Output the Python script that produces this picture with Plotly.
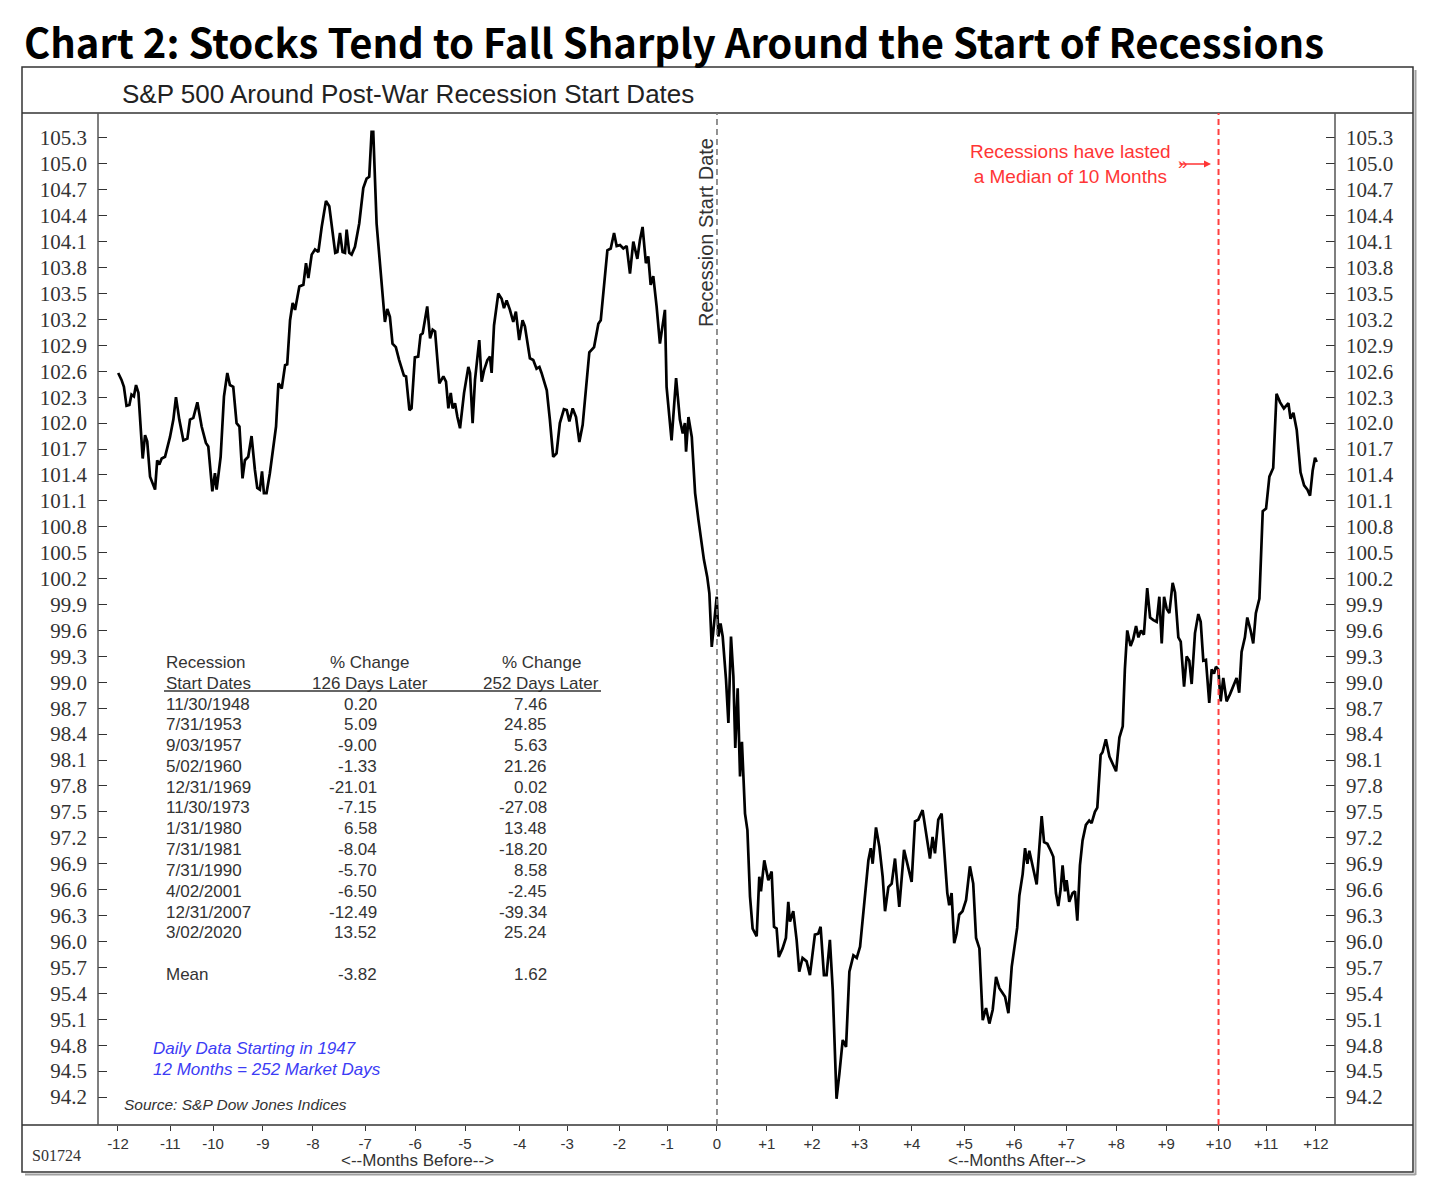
import plotly.graph_objects as go

# ---------------- data ----------------
days = [-251.9, -250.5, -249.5, -248.4, -247.2, -246.3, -245.3, -244.4, -243.4, -241.6, -240.6, -239.7, -238.5,
        -236.4, -235.5, -234.6, -233.6, -232.2, -230.1, -228.7, -227.6, -226.2, -224.5, -222.8, -221.7, -220.3,
        -218.6, -216.8, -215.0, -214.0, -212.3, -211.2, -210.5, -208.8, -207.4, -206.0, -204.9, -203.5, -202.1,
        -200.9, -199.6, -198.6, -197.2, -195.8, -194.4, -193.4, -192.3, -191.4, -190.6, -189.5, -188.1, -186.9,
        -185.5, -184.5, -183.1, -181.7, -180.8, -179.6, -178.5, -177.5, -175.7, -174.0, -172.9, -171.9, -170.5,
        -169.1, -167.7, -166.3, -164.5, -163.1, -161.7, -160.6, -159.7, -158.6, -157.5, -156.5, -155.8, -154.7,
        -153.7, -152.3, -150.5, -148.8, -147.4, -146.3, -145.3, -144.6, -143.2, -141.8, -139.7, -138.7, -137.6,
        -136.5, -135.1, -133.7, -131.7, -130.8, -129.4, -128.5, -127.1, -125.7,
        -124.7, -123.8, -122.8, -121.9, -120.7, -119.6, -118.6, -116.8, -115.1, -114.0, -113.0, -112.0, -111.2,
        -110.2, -109.2, -108.1, -106.4, -104.6, -103.9, -102.8, -101.8, -100.0, -99.0, -98.0, -96.6, -95.5,
        -94.8, -93.8, -92.0, -90.6, -89.6, -88.5, -87.1, -85.7, -84.6, -83.2, -81.8, -80.8, -78.7, -77.3, -75.9,
        -74.7, -73.8, -71.6, -70.3, -68.9, -67.5, -66.1, -64.4, -63.2, -62.1, -60.7, -59.3, -57.9, -56.5, -54.8,
        -53.7, -51.7, -49.9, -48.9, -47.1, -46.1, -44.7, -43.3, -42.2, -40.8, -39.4, -38.0, -36.6, -35.2, -33.5,
        -32.4, -31.3, -29.9, -28.9, -27.9, -26.8, -25.4, -24.0, -22.9, -21.9, -21.2, -19.1, -17.2, -15.6, -14.4,
        -13.5, -13.0, -12.0, -10.6, -9.2, -7.8, -6.4, -5.5, -4.1,
        -3.2, -2.2, -1.3, -0.1, 0.6, 1.5, 2.4, 3.8, 4.8, 5.9, 6.9, 7.7, 8.7, 9.7, 10.5, 11.8, 12.8, 13.9, 15.0,
        16.7, 17.8, 18.5, 19.9, 21.6, 23.0, 24.0, 25.1, 26.0, 27.6, 29.0, 30.0, 30.7, 32.1, 33.5, 34.6, 36.0,
        37.7, 39.1, 41.2, 42.6, 43.6, 45.0, 46.1, 47.5, 48.7, 50.3, 51.5, 52.9, 54.3, 55.7, 57.4, 58.8, 60.2,
        62.3, 63.7, 64.7, 65.5, 66.9, 68.3, 69.7, 70.7, 72.1, 73.5, 74.9, 76.7, 78.7, 80.5, 81.9, 83.3, 84.7,
        86.5, 88.2, 89.6, 90.7, 91.7, 93.1, 94.5, 96.9, 97.7, 98.7, 99.8, 100.8, 101.9, 103.3, 104.8, 106.4,
        107.8, 109.0, 110.4, 111.8, 113.2, 114.6, 116.0, 117.4, 118.8, 121.2, 122.6, 124.0,
        126.3, 127.2, 128.6, 129.6, 130.6, 131.4, 132.4, 133.4, 134.5, 135.6, 136.6, 137.6, 139.0, 140.4, 141.5,
        142.6, 143.6, 144.6, 145.4, 146.4, 147.1, 148.2, 149.6, 150.6, 151.6, 152.7, 153.8, 155.2, 156.6, 157.6,
        159.0, 160.0, 160.8, 161.4, 162.2, 163.6, 165.1, 166.7, 167.9, 169.3, 170.7, 171.6, 172.6, 174.0, 175.1,
        176.3, 177.3, 178.4, 179.6, 181.0, 182.2, 183.6, 185.0, 186.1, 187.1, 188.1, 189.2, 190.3, 191.7, 192.7,
        194.1, 195.1, 196.5, 197.6, 198.7, 199.7, 201.1, 202.5, 203.5, 204.6, 205.7, 207.1, 208.1, 209.1, 209.9,
        210.9, 211.9, 213.0, 214.4, 215.8, 217.5, 218.6, 219.7, 220.7, 222.1, 223.1, 224.5, 225.6, 226.7, 228.2,
        229.6, 231.0, 232.4, 234.0, 235.4, 236.9, 238.5, 240.4, 241.3, 242.5, 243.9, 245.5, 247.0, 248.4, 249.5,
        250.6, 251.6, 252.3]

sp500 = [102.58, 102.50, 102.42, 102.20, 102.21, 102.33, 102.31, 102.44, 102.35, 101.59, 101.86, 101.79, 101.38,
         101.23, 101.57, 101.52, 101.59, 101.61, 101.84, 102.04, 102.30, 102.04, 101.80, 101.82, 102.04, 102.06,
         102.24, 101.96, 101.77, 101.73, 101.21, 101.42, 101.23, 101.61, 102.31, 102.58, 102.44, 102.42, 102.00,
         101.96, 101.36, 101.57, 101.61, 101.85, 101.46, 101.25, 101.23, 101.44, 101.19, 101.19, 101.42, 101.67,
         101.96, 102.46, 102.40, 102.67, 102.68, 103.19, 103.39, 103.31, 103.58, 103.60, 103.85, 103.68, 103.95,
         104.01, 103.98, 104.27, 104.57, 104.51, 104.20, 103.97, 103.98, 104.20, 103.98, 103.97, 104.24, 103.97,
         103.95, 104.04, 104.31, 104.72, 104.83, 104.85, 105.37, 105.37, 104.31, 103.89, 103.17, 103.32, 103.23,
         102.92, 102.88, 102.73, 102.55, 102.54, 102.15, 102.17, 102.76, 102.77,
         103.02, 103.04, 103.23, 103.35, 102.98, 103.08, 103.06, 102.46, 102.54, 102.48, 102.17, 102.35, 102.17,
         102.23, 102.07, 101.94, 102.35, 102.65, 102.58, 102.00, 102.50, 102.96, 102.48, 102.61, 102.73, 102.77,
         102.58, 103.13, 103.50, 103.44, 103.33, 103.42, 103.31, 103.17, 103.29, 102.96, 103.19, 103.12, 102.75,
         102.73, 102.63, 102.65, 102.58, 102.38, 102.04, 101.61, 101.65, 102.00, 102.16, 102.15, 102.02, 102.17,
         102.07, 101.78, 101.98, 102.50, 102.82, 102.88, 103.15, 103.19, 103.73, 104.00, 104.02, 104.20, 104.05,
         104.06, 104.02, 104.05, 103.73, 104.10, 103.90, 104.12, 104.27, 103.85, 103.93, 103.60, 103.70, 103.35,
         102.92, 103.12, 103.31, 102.42, 101.80, 102.52, 102.04, 101.88, 102.00, 101.67, 102.07, 101.84, 101.19,
         100.88, 100.61, 100.42, 100.22,
         100.03, 99.41, 99.68, 99.99, 99.53, 99.68, 99.53, 99.03, 98.53, 99.53, 99.07, 98.24, 98.93, 97.91, 98.31,
         97.48, 97.29, 96.52, 96.15, 96.06, 96.75, 96.58, 96.94, 96.71, 96.81, 96.17, 96.15, 95.82, 95.92, 96.04,
         96.46, 96.23, 96.35, 96.02, 95.65, 95.81, 95.77, 95.61, 96.08, 96.09, 96.17, 95.61, 95.61, 96.02, 95.44,
         94.18, 94.47, 94.86, 94.78, 95.65, 95.84, 95.81, 95.94, 96.52, 96.94, 97.08, 96.90, 97.32, 97.10, 96.75,
         96.35, 96.63, 96.67, 96.96, 96.40, 97.06, 96.87, 96.69, 97.39, 97.41, 97.52, 97.21, 96.96, 97.21, 97.02,
         97.41, 97.48, 96.56, 96.42, 96.56, 95.98, 96.09, 96.31, 96.35, 96.48, 96.87, 96.67, 96.04, 95.92, 95.09,
         95.23, 95.05, 95.21, 95.59, 95.46, 95.36, 95.17, 95.71,
         96.16, 96.53, 96.78, 97.08, 96.90, 97.05, 96.93, 96.78, 96.66, 97.08, 97.45, 97.15, 97.13, 97.05, 96.98,
         96.56, 96.41, 96.61, 96.88, 96.58, 96.71, 96.46, 96.56, 96.58, 96.24, 96.88, 97.17, 97.35, 97.40, 97.37,
         97.50, 97.55, 97.84, 98.16, 98.19, 98.34, 98.14, 98.04, 97.97, 98.36, 98.49, 99.15, 99.60, 99.42, 99.50,
         99.65, 99.52, 99.60, 99.55, 100.09, 99.75, 99.72, 99.70, 99.99, 99.45, 99.99, 99.85, 99.80, 100.15, 100.04,
         99.52, 99.47, 98.95, 99.30, 99.25, 98.98, 99.57, 99.79, 99.70, 99.25, 99.26, 98.76, 99.15, 99.10, 99.18,
         99.15, 98.78, 99.05, 98.78, 98.86, 98.98, 99.05, 98.88, 99.35, 99.52, 99.75, 99.60, 99.45, 99.80, 99.97,
         100.98, 101.01, 101.38, 101.48, 102.34, 102.24, 102.17, 102.23, 102.05, 102.12, 101.92, 101.43, 101.28,
         101.23, 101.16, 101.45, 101.60, 101.55]

month_ticks = [-252, -230, -212, -191, -170, -148, -127, -106, -83, -63, -41, -21, 0,
               21, 40, 60, 82, 104, 125, 147, 168, 189, 211, 231, 252]
month_labels = ["-12", "-11", "-10", "-9", "-8", "-7", "-6", "-5", "-4", "-3", "-2", "-1", "0",
                "+1", "+2", "+3", "+4", "+5", "+6", "+7", "+8", "+9", "+10", "+11", "+12"]
y_ticks = [94.2, 94.5, 94.8, 95.1, 95.4, 95.7, 96.0, 96.3, 96.6, 96.9, 97.2, 97.5, 97.8, 98.1, 98.4, 98.7,
           99.0, 99.3, 99.6, 99.9, 100.2, 100.5, 100.8, 101.1, 101.4, 101.7, 102.0, 102.3, 102.6, 102.9,
           103.2, 103.5, 103.8, 104.1, 104.4, 104.7, 105.0, 105.3]
recession_start_day = 0
median_length_day = 211

rec_dates = ["11/30/1948", "7/31/1953", "9/03/1957", "5/02/1960", "12/31/1969", "11/30/1973",
             "1/31/1980", "7/31/1981", "7/31/1990", "4/02/2001", "12/31/2007", "3/02/2020"]
chg_126 = ["0.20", "5.09", "-9.00", "-1.33", "-21.01", "-7.15", "6.58", "-8.04", "-5.70", "-6.50", "-12.49", "13.52"]
chg_252 = ["7.46", "24.85", "5.63", "21.26", "0.02", "-27.08", "13.48", "-18.20", "8.58", "-2.45", "-39.34", "25.24"]
mean_126 = "-3.82"
mean_252 = "1.62"

# ---------------- layout helpers ----------------
W, H = 1440, 1180
L, R, T, B = 98, 1335, 113, 1125


def px(x):
    return (x - L) / (R - L)


def py(y):
    return (B - y) / (B - T)


SANS = "Liberation Sans, Arial, sans-serif"
SERIF = "Liberation Serif, Times New Roman, serif"
TXT = "#333333"

fig = go.Figure()
fig.add_trace(go.Scatter(x=days, y=sp500, mode="lines", line=dict(color="black", width=2.7),
                         showlegend=False, hoverinfo="skip"))
fig.add_trace(go.Scatter(x=[days[0]], y=[sp500[0]], yaxis="y2", mode="markers",
                         marker=dict(opacity=0), showlegend=False, hoverinfo="skip"))

yrange = [93.876, 105.589]
yaxis_common = dict(range=yrange, tickmode="array", tickvals=y_ticks, ticktext=[f"{v:.1f}" for v in y_ticks],
                    ticks="inside", ticklen=9, tickcolor="#333", tickwidth=1.2, showgrid=False, zeroline=False,
                    showline=False, ticklabelstandoff=10,
                    tickfont=dict(family=SERIF, size=21, color=TXT))

fig.update_layout(
    width=W, height=H,
    margin=dict(l=L, r=W - R, t=T, b=H - B),
    paper_bgcolor="white", plot_bgcolor="white",
    xaxis=dict(range=[-260.4, 260.0], tickmode="array", tickvals=month_ticks, ticktext=month_labels,
               ticks="outside", ticklen=5, tickcolor="#333", tickwidth=1.2, showgrid=False, zeroline=False,
               showline=False, ticklabelstandoff=0, tickfont=dict(family=SANS, size=15, color=TXT)),
    yaxis=dict(**yaxis_common, side="left"),
    yaxis2=dict(**yaxis_common, side="right", overlaying="y"),
    showlegend=False,
)

shapes = []
line_c = "#333333"
# shadow of outer frame
shapes.append(dict(type="line", xref="paper", yref="paper", x0=px(1415.5), x1=px(1415.5), y0=py(1175), y1=py(70),
                   line=dict(color="#a0a0a0", width=2)))
shapes.append(dict(type="line", xref="paper", yref="paper", x0=px(25), x1=px(1415.5), y0=py(1174.5), y1=py(1174.5),
                   line=dict(color="#a0a0a0", width=2)))
# outer frame
shapes.append(dict(type="rect", xref="paper", yref="paper", x0=px(22), x1=px(1413), y0=py(1172), y1=py(67),
                   line=dict(color=line_c, width=1.5)))
# horizontal separators
for yy in (T, B):
    shapes.append(dict(type="line", xref="paper", yref="paper", x0=px(22), x1=px(1413), y0=py(yy), y1=py(yy),
                       line=dict(color=line_c, width=1.5)))
# axis verticals
for xx in (L, R):
    shapes.append(dict(type="line", xref="paper", yref="paper", x0=px(xx), x1=px(xx), y0=0, y1=1,
                       line=dict(color="#555", width=1.5)))
# recession start line
shapes.append(dict(type="line", xref="x", yref="paper", x0=recession_start_day, x1=recession_start_day, y0=0, y1=1,
                   line=dict(color="#777777", width=1.6, dash="6px,4px")))
# median length line
shapes.append(dict(type="line", xref="x", yref="paper", x0=median_length_day, x1=median_length_day, y0=0, y1=1,
                   line=dict(color="#ff4040", width=2, dash="6px,4px")))
# table underline
shapes.append(dict(type="line", xref="paper", yref="paper", x0=px(164), x1=px(601), y0=py(691), y1=py(691),
                   line=dict(color=line_c, width=1.5)))

ann = []


def text(x, y, s, size, color=TXT, family=SANS, xanchor="left", **kw):
    ann.append(dict(x=px(x), y=py(y), xref="paper", yref="paper", text=s, showarrow=False,
                    xanchor=xanchor, yanchor="middle", font=dict(family=family, size=size, color=color), **kw))


# titles
text(22, 41, "<b>Chart 2: Stocks Tend to Fall Sharply Around the Start of Recessions</b>", 40, color="#000",
     family="Noto Sans CJK KR, Noto Sans, sans-serif")
text(120, 94, "S&P 500 Around Post-War Recession Start Dates", 26, color="#222")

# table header
text(164, 662, "Recession", 17)
text(164, 683, "Start Dates", 17)
text(369, 662, "% Change", 17, xanchor="center")
text(370, 683, "126 Days Later", 17, xanchor="center")
text(541, 662, "% Change", 17, xanchor="center")
text(541, 683, "252 Days Later", 17, xanchor="center")
for i, (d, a, b) in enumerate(zip(rec_dates, chg_126, chg_252)):
    yy = 704 + i * 20.8
    text(164, yy, d, 17)
    text(379, yy, a, 17, xanchor="right")
    text(549, yy, b, 17, xanchor="right")
text(164, 974, "Mean", 17)
text(379, 974, mean_126, 17, xanchor="right")
text(549, 974, mean_252, 17, xanchor="right")

# notes
text(151, 1048, "<i>Daily Data Starting in 1947</i>", 17, color="#3c3cf5")
text(151, 1069, "<i>12 Months = 252 Market Days</i>", 17, color="#3c3cf5")
text(122, 1104, "<i>Source: S&P Dow Jones Indices</i>", 15.5, color="#333")

# vertical label
text(706, 233, "Recession Start Date", 20, xanchor="center", textangle=-90)

# red annotation
text(1070, 164, "Recessions have lasted<br>a Median of 10 Months", 19, color="#ff3535", xanchor="center",
     align="center")
ann.append(dict(x=px(1211), y=py(164), xref="paper", yref="paper", ax=-33, ay=0, text="", showarrow=True,
                arrowhead=2, arrowsize=1, arrowwidth=1.4, arrowcolor="#ff3535"))
text(1182, 163, "»", 17, color="#ff3535", xanchor="center")

# bottom texts
text(417, 1160, "&lt;--Months Before--&gt;", 17, xanchor="center")
text(1017, 1160, "&lt;--Months After--&gt;", 17, xanchor="center")
text(30, 1155, "S01724", 16, family=SERIF)

fig.update_layout(shapes=shapes, annotations=ann)
fig.write_html("out.html")
